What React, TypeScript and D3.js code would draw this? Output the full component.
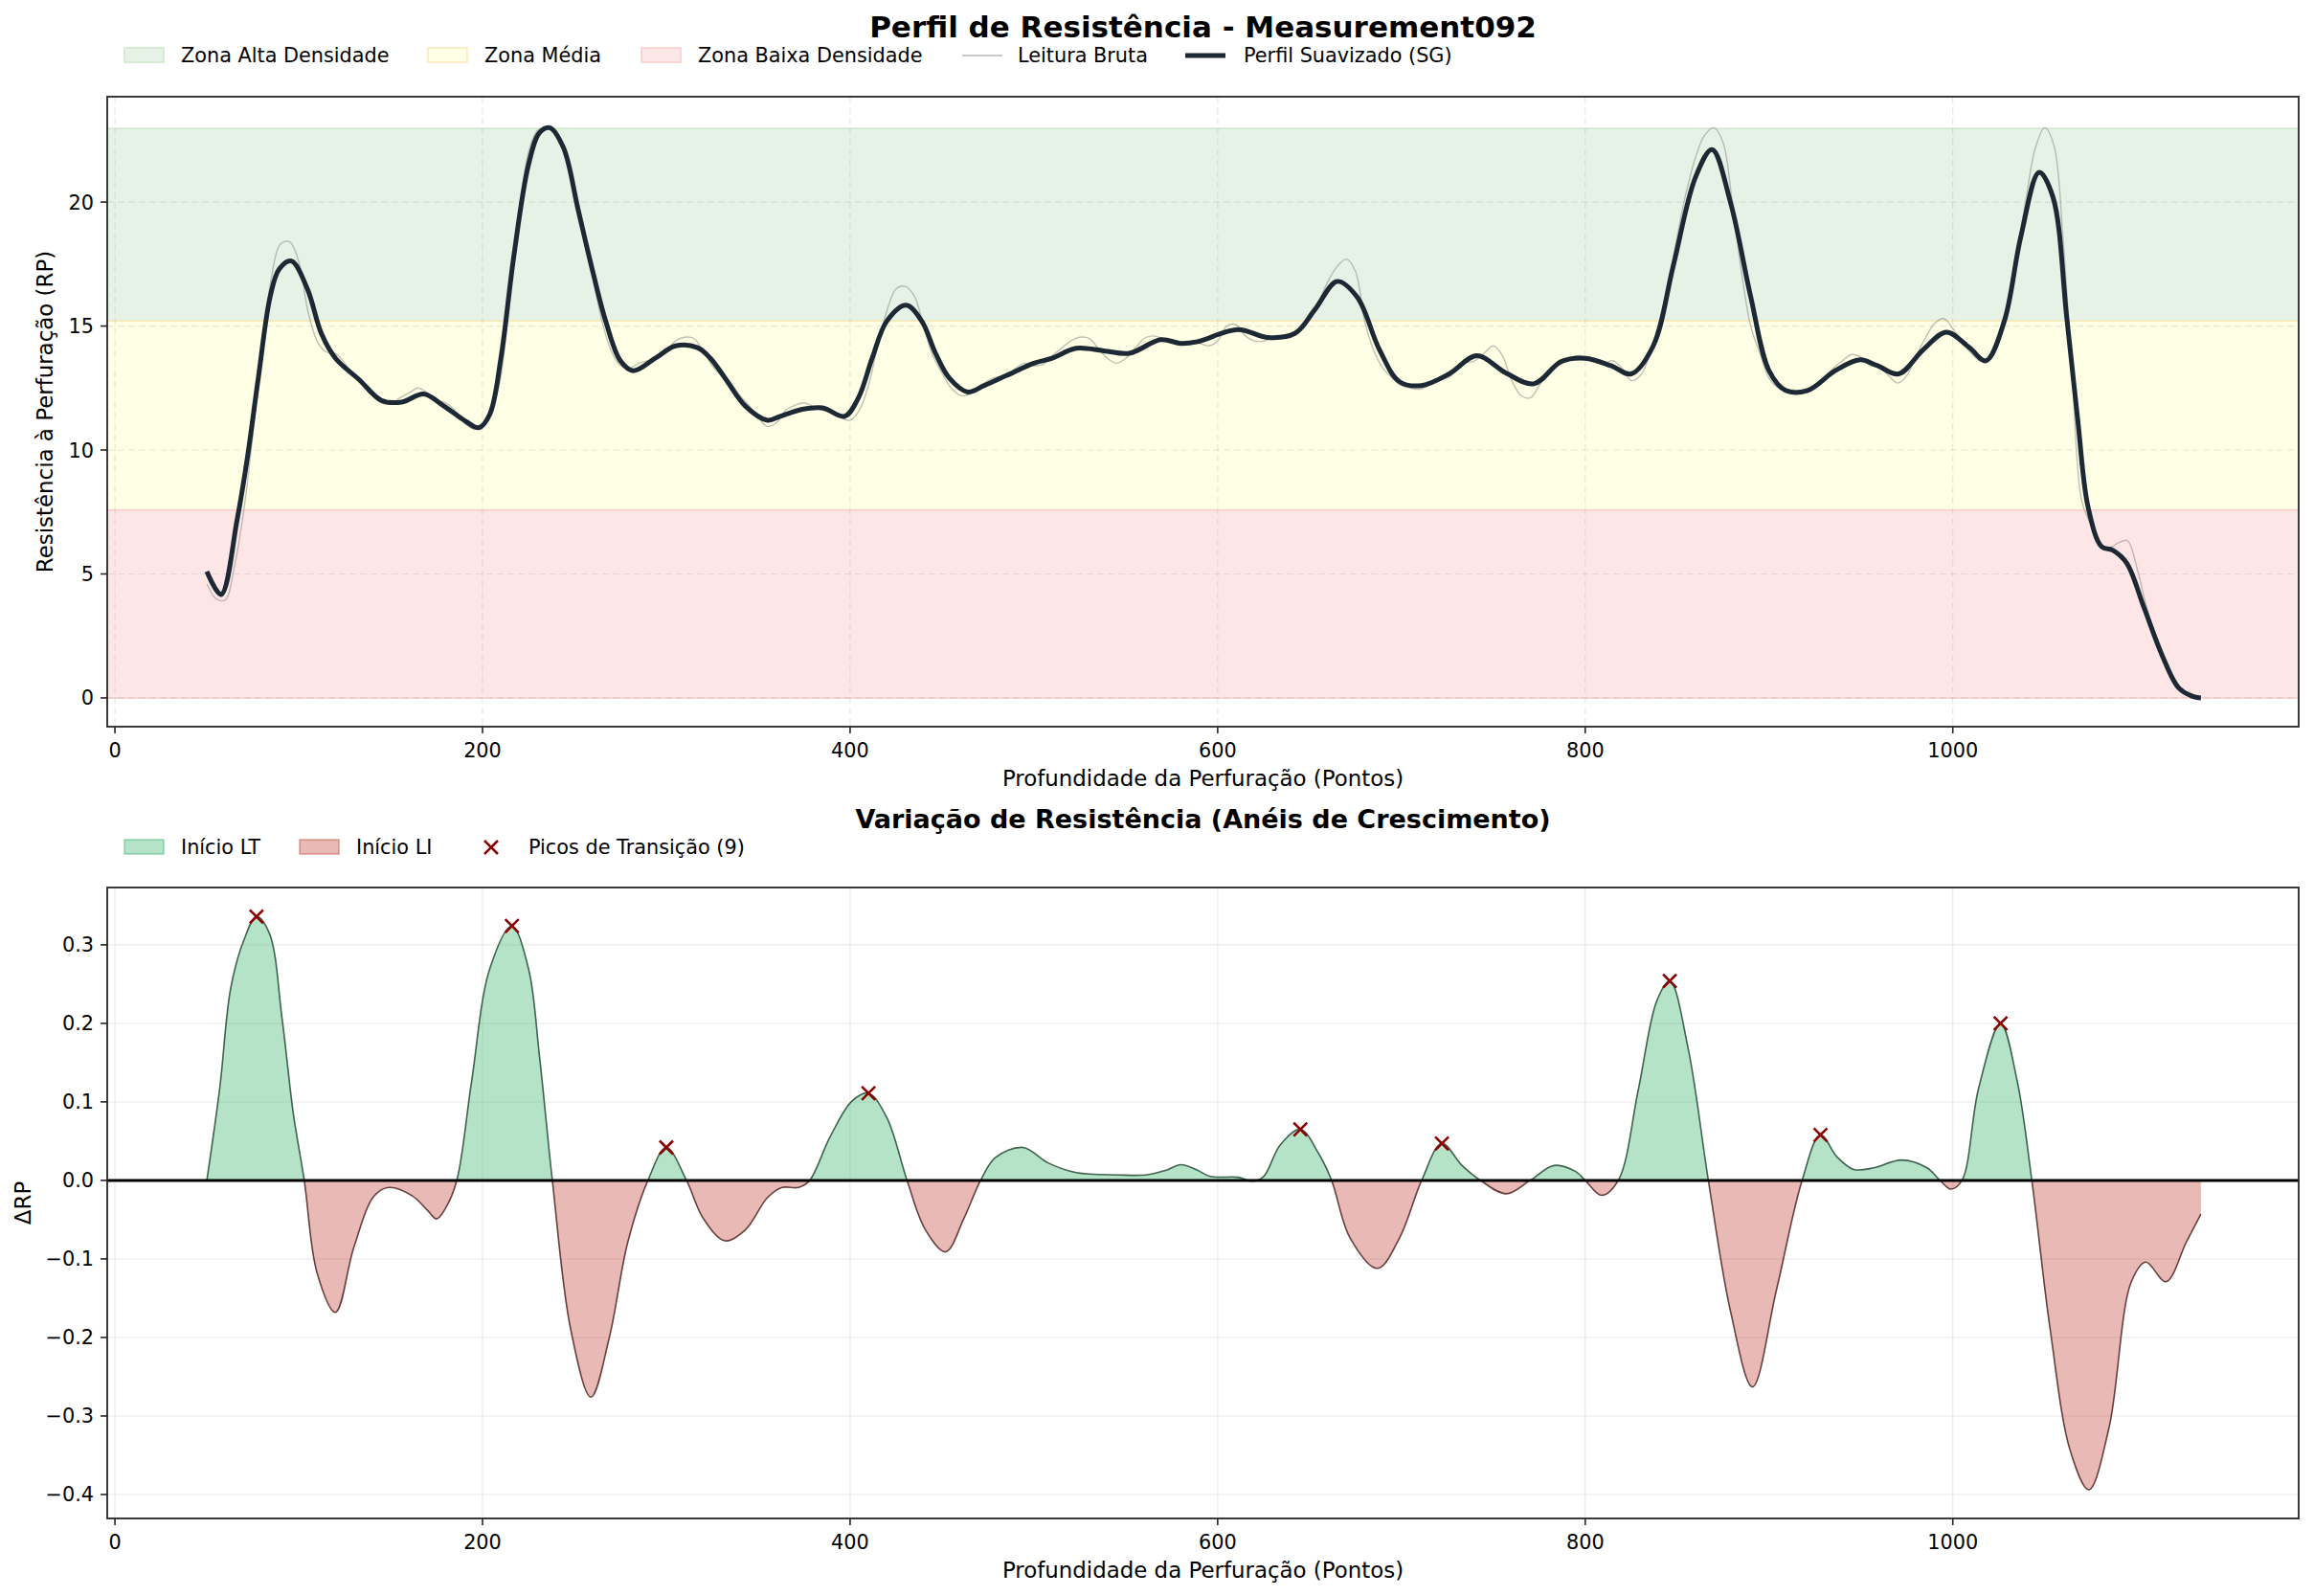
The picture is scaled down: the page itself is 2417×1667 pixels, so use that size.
import React from "react";
import * as d3 from "d3";

// ---- data ----

// smoothed profile (SG), key points along the depth axis
const smoothDepth = [
  50, 57.7, 66.5, 72, 78, 84.5, 89.4, 96, 104.7, 112.3, 120, 133, 145, 156, 168, 179, 191, 198, 204, 210,
  217, 225, 231, 236.5, 244, 252, 259, 267, 275, 282, 294, 305, 317, 324, 332, 343, 355, 362, 374, 385,
  397, 404.5, 412, 420, 430.5, 439, 446.5, 454, 464, 473, 485, 500, 510, 523, 538, 552, 569, 580, 589, 611,
  627, 642, 653, 665, 676, 688, 699, 711, 726, 741, 757, 772, 787, 800, 814, 825, 837, 848, 860, 869,
  879, 890, 900, 909, 921, 936, 949.5, 959, 970.5, 984, 996.5, 1009, 1018, 1028, 1037, 1047, 1054.5, 1062, 1068, 1073.6,
  1081, 1087, 1094.6, 1104, 1114, 1123, 1131, 1135,
];
const smoothRP = [
  5.1, 4.17, 7.2, 9.66, 12.9, 16.2, 17.3, 17.62, 16.5, 14.7, 13.7, 12.83, 12.0, 11.93, 12.26, 11.77, 11.15, 10.9, 11.45, 13.7,
  17.8, 21.5, 22.8, 23.0, 22.2, 19.7, 17.5, 15.2, 13.6, 13.2, 13.7, 14.2, 14.13, 13.7, 12.9, 11.77, 11.2, 11.36, 11.64, 11.7,
  11.36, 12.1, 13.7, 15.2, 15.84, 15.2, 13.9, 12.9, 12.34, 12.6, 13.0, 13.5, 13.7, 14.1, 14.0, 13.9, 14.45, 14.3, 14.37, 14.86,
  14.54, 14.7, 15.67, 16.8, 16.16, 14.05, 12.75, 12.6, 13.07, 13.8, 13.1, 12.67, 13.57, 13.7, 13.4, 13.07, 14.2, 17.46, 21.0, 22.12,
  20.0, 16.2, 13.2, 12.4, 12.4, 13.2, 13.64, 13.4, 13.07, 14.05, 14.75, 14.13, 13.6, 15.19, 18.6, 21.2, 20.2, 15.35, 11.2, 7.7,
  6.1, 5.96, 5.44, 3.65, 1.7, 0.4, 0.05, 0.0,
];

// raw reading, one value every 5 points from depth 50
const rawStart = 50;
const rawStep = 5;
const rawRP = [
  4.6, 4.0, 3.95, 5.3, 7.5, 10.6, 14.0, 16.9, 18.3, 18.4,
  17.6, 15.6, 14.4, 13.95, 13.9, 13.5, 13.0, 12.6, 12.2, 11.9,
  11.85, 12.1, 12.3, 12.5, 12.3, 12.0, 11.9, 11.6, 11.1, 10.85,
  11.0, 11.6, 13.0, 16.3, 19.5, 22.0, 22.9, 23.0, 22.9, 21.8,
  20.6, 19.0, 17.0, 15.2, 14.0, 13.4, 13.3, 13.5, 13.6, 13.7,
  14.0, 14.4, 14.55, 14.5, 14.0, 13.4, 13.0, 12.7, 12.2, 11.8,
  11.3, 10.95, 11.1, 11.6, 11.8, 11.9, 11.75, 11.6, 11.5, 11.3,
  11.2, 11.6, 12.6, 14.2, 15.6, 16.5, 16.6, 16.2, 15.0, 13.8,
  13.1, 12.5, 12.2, 12.25, 12.5, 12.8, 12.95, 13.0, 13.3, 13.5,
  13.4, 13.45, 13.8, 14.1, 14.4, 14.55, 14.5, 14.1, 13.7, 13.5,
  13.7, 14.1, 14.5, 14.6, 14.5, 14.35, 14.25, 14.3, 14.3, 14.2,
  14.4, 15.0, 15.05, 14.6, 14.4, 14.4, 14.55, 14.6, 14.6, 14.9,
  15.4, 16.0, 16.8, 17.4, 17.7, 17.2, 15.2, 14.0, 13.3, 12.9,
  12.6, 12.5, 12.45, 12.6, 12.8, 12.9, 13.2, 13.5, 13.6, 13.9,
  14.2, 13.8, 12.8, 12.2, 12.1, 12.6, 13.2, 13.4, 13.6, 13.8,
  13.75, 13.6, 13.5, 13.6, 13.3, 12.8, 13.0, 13.8, 14.8, 16.6,
  18.6, 20.4, 21.8, 22.7, 23.0, 22.4, 20.0, 17.2, 15.0, 13.9,
  12.9, 12.5, 12.45, 12.4, 12.4, 12.5, 12.9, 13.3, 13.6, 13.85,
  13.75, 13.4, 13.35, 13.0, 12.7, 13.0, 13.8, 14.5, 15.1, 15.3,
  14.9, 14.4, 13.9, 13.6, 13.7, 14.7, 16.0, 18.0, 20.2, 22.2,
  23.0, 22.3, 18.5, 13.0, 8.0, 7.0, 6.2, 6.05, 6.25, 6.35,
  5.3, 3.8, 2.5, 1.4, 0.7, 0.25, 0.05, 0.0,
];

// density zones
const zoneNames = ["Zona Alta Densidade", "Zona Média", "Zona Baixa Densidade"];
const zoneLow = [15.2, 7.58, 0];
const zoneHigh = [22.97, 15.2, 7.58];

// ΔRP (growth rings)
const deltaDepth = [
  50, 57, 63, 70, 77, 84, 91, 97, 103, 110, 120, 130, 141, 149, 162, 170, 175, 180, 186, 194,
  204, 216, 225, 231, 238, 248, 259, 269, 279, 290, 300, 311, 320, 332, 343, 355, 363, 372, 378, 389,
  401, 410, 420, 431, 441, 452, 462, 471, 479, 494, 508, 523, 546, 561, 572, 580, 589, 596, 611, 619,
  625, 634, 645, 655, 662, 672, 687, 699, 711, 722, 733, 743, 757, 770, 783, 795, 800, 809, 818, 829,
  839, 846, 856, 867, 879, 891, 904, 918, 928, 937, 946, 957, 972, 986, 993, 999, 1005, 1014, 1026, 1035,
  1043, 1053, 1064, 1074, 1085, 1097, 1105, 1116, 1127, 1135,
];
const deltaRP = [
  0, 0.117, 0.245, 0.305, 0.336, 0.315, 0.205, 0.086, 0, -0.118, -0.168, -0.085, -0.02, -0.009, -0.02, -0.038, -0.049, -0.035, 0, 0.125,
  0.27, 0.324, 0.27, 0.158, 0, -0.19, -0.276, -0.2, -0.079, 0, 0.042, 0, -0.048, -0.077, -0.063, -0.022, -0.009, -0.009, 0, 0.055,
  0.101, 0.111, 0.08, 0, -0.063, -0.091, -0.048, 0, 0.029, 0.042, 0.022, 0.01, 0.007, 0.007, 0.013, 0.02, 0.013, 0.005, 0.004, -0.001,
  0.005, 0.045, 0.065, 0.034, 0, -0.073, -0.112, -0.073, 0, 0.047, 0.019, 0, -0.017, 0, 0.019, 0.011, 0, -0.019, 0, 0.117,
  0.229, 0.254, 0.168, 0, -0.166, -0.263, -0.14, 0, 0.058, 0.03, 0.014, 0.016, 0.026, 0.016, 0, -0.011, 0, 0.117, 0.2, 0.127,
  0, -0.19, -0.345, -0.394, -0.315, -0.13, -0.104, -0.129, -0.079, -0.043,
];

// transition peaks
const peakDepth = [77, 216, 300, 410, 645, 722, 846, 928, 1026];
const peakRP = [0.336, 0.324, 0.042, 0.111, 0.065, 0.047, 0.254, 0.058, 0.2];

const xTicks = [0, 200, 400, 600, 800, 1000];
const yTicksTop = [0, 5, 10, 15, 20];
const yTicksBottom = [-0.4, -0.3, -0.2, -0.1, 0, 0.1, 0.2, 0.3];

// ---- layout ----
const W = 2417;
const H = 1667;
const L = 112;
const R = 2401;
const top = { y0: 101, y1: 759 };
const bot = { y0: 927, y1: 1586 };
const FONT = "DejaVu Sans, sans-serif";

const zoneFill = ["#e6f2e6", "#ffffe6", "#ffe6e6"];
const zoneEdge = ["#cde6c9", "#fbe9b8", "#f8cccc"];

const minus = (s: string) => s.replace("-", "\u2212");

export default function App() {
  const x = d3.scaleLinear().domain([-4.2, 1188.2]).range([L, R]);
  const yTop = d3.scaleLinear().domain([-1.16, 24.25]).range([top.y1, top.y0]);
  const yBot = d3.scaleLinear().domain([-0.4305, 0.373]).range([bot.y1, bot.y0]);

  const smoothPts: [number, number][] = smoothDepth.map((d, i) => [d, smoothRP[i]]);
  const rawPts: [number, number][] = rawRP.map((v, i) => [rawStart + i * rawStep, v]);
  const deltaPts: [number, number][] = deltaDepth.map((d, i) => [d, deltaRP[i]]);

  const curve = d3.curveCatmullRom.alpha(0.5);

  const lineTop = d3
    .line<[number, number]>()
    .x((d) => x(d[0]))
    .y((d) => yTop(d[1]))
    .curve(curve);
  const lineBot = d3
    .line<[number, number]>()
    .x((d) => x(d[0]))
    .y((d) => yBot(d[1]))
    .curve(curve);
  const areaBot = d3
    .area<[number, number]>()
    .x((d) => x(d[0]))
    .y0(yBot(0))
    .y1((d) => yBot(d[1]))
    .curve(curve);

  const fmt1 = d3.format(".1f");
  const zeroY = yBot(0);

  return (
    <svg
      width={W}
      height={H}
      viewBox={`0 0 ${W} ${H}`}
      style={{ position: "absolute", left: 0, top: 0, background: "#fff" }}
      fontFamily={FONT}
    >
      <defs>
        <clipPath id="clipTop">
          <rect x={L} y={top.y0} width={R - L} height={top.y1 - top.y0} />
        </clipPath>
        <clipPath id="clipPos">
          <rect x={L} y={bot.y0} width={R - L} height={zeroY - bot.y0} />
        </clipPath>
        <clipPath id="clipNeg">
          <rect x={L} y={zeroY} width={R - L} height={bot.y1 - zeroY} />
        </clipPath>
      </defs>
      <rect x={0} y={0} width={W} height={H} fill="#fff" />

      {/* ---------- top panel ---------- */}
      <text x={(L + R) / 2} y={39} textAnchor="middle" fontSize={31} fontWeight="bold">
        Perfil de Resistência - Measurement092
      </text>

      {/* legend */}
      <g fontSize={20.8}>
        {[130, 447, 670].map((lx, i) => (
          <g key={i}>
            <rect x={lx} y={50} width={41} height={15} fill={zoneFill[i]} stroke={zoneEdge[i]} strokeWidth={1.5} />
            <text x={lx + 59} y={65}>{zoneNames[i]}</text>
          </g>
        ))}
        <line x1={1005} x2={1047} y1={58} y2={58} stroke="#999" strokeOpacity={0.7} strokeWidth={1.5} />
        <text x={1063} y={65}>Leitura Bruta</text>
        <line x1={1238} x2={1280} y1={58} y2={58} stroke="#1c2833" strokeWidth={5} />
        <text x={1299} y={65}>Perfil Suavizado (SG)</text>
      </g>

      {/* zones */}
      {zoneLow.map((lo, i) => (
        <g key={i}>
          <rect x={L} y={yTop(zoneHigh[i])} width={R - L} height={yTop(lo) - yTop(zoneHigh[i])} fill={zoneFill[i]} />
          <line x1={L} x2={R} y1={yTop(zoneHigh[i])} y2={yTop(zoneHigh[i])} stroke={zoneEdge[i]} strokeWidth={1.5} />
          <line x1={L} x2={R} y1={yTop(lo)} y2={yTop(lo)} stroke={zoneEdge[i]} strokeWidth={1.5} />
        </g>
      ))}

      {/* grid */}
      <g stroke="#b0b0b0" strokeOpacity={0.3} strokeWidth={1.2} strokeDasharray="7,4">
        {xTicks.map((t) => (
          <line key={t} x1={x(t)} x2={x(t)} y1={top.y0} y2={top.y1} />
        ))}
        {yTicksTop.map((t) => (
          <line key={t} x1={L} x2={R} y1={yTop(t)} y2={yTop(t)} />
        ))}
      </g>

      <g clipPath="url(#clipTop)">
        <path d={lineTop(rawPts) ?? ""} fill="none" stroke="#8c8c8c" strokeOpacity={0.55} strokeWidth={1.4} />
        <path d={lineTop(smoothPts) ?? ""} fill="none" stroke="#1c2833" strokeWidth={5} strokeLinejoin="round" />
      </g>

      <rect x={L} y={top.y0} width={R - L} height={top.y1 - top.y0} fill="none" stroke="#262626" strokeWidth={1.8} />

      {/* axes top */}
      <g fontSize={20.8} fill="#000">
        {xTicks.map((t) => (
          <g key={t}>
            <line x1={x(t)} x2={x(t)} y1={top.y1} y2={top.y1 + 7} stroke="#262626" strokeWidth={1.6} />
            <text x={x(t)} y={top.y1 + 32} textAnchor="middle">{t}</text>
          </g>
        ))}
        {yTicksTop.map((t) => (
          <g key={t}>
            <line x1={L - 7} x2={L} y1={yTop(t)} y2={yTop(t)} stroke="#262626" strokeWidth={1.6} />
            <text x={L - 14} y={yTop(t) + 7.5} textAnchor="end">{t}</text>
          </g>
        ))}
      </g>
      <text x={(L + R) / 2} y={821} textAnchor="middle" fontSize={22.9}>
        Profundidade da Perfuração (Pontos)
      </text>
      <text
        transform={`translate(55,${(top.y0 + top.y1) / 2}) rotate(-90)`}
        textAnchor="middle"
        fontSize={22.9}
      >
        Resistência à Perfuração (RP)
      </text>

      {/* ---------- bottom panel ---------- */}
      <text x={(L + R) / 2} y={865} textAnchor="middle" fontSize={27} fontWeight="bold">
        Variação de Resistência (Anéis de Crescimento)
      </text>

      <g fontSize={20.8}>
        <rect x={130} y={877} width={41} height={15} fill="#27ae60" fillOpacity={0.35} stroke="#27ae60" strokeOpacity={0.45} strokeWidth={1.5} />
        <text x={189} y={892}>Início LT</text>
        <rect x={313} y={877} width={41} height={15} fill="#c0392b" fillOpacity={0.35} stroke="#c0392b" strokeOpacity={0.45} strokeWidth={1.5} />
        <text x={372} y={892}>Início LI</text>
        <path d="M506,878 L520,892 M520,878 L506,892" stroke="#8b0000" strokeWidth={2.6} />
        <text x={552} y={892}>Picos de Transição (9)</text>
      </g>

      {/* grid */}
      <g stroke="#b0b0b0" strokeOpacity={0.2} strokeWidth={1.5}>
        {xTicks.map((t) => (
          <line key={t} x1={x(t)} x2={x(t)} y1={bot.y0} y2={bot.y1} />
        ))}
        {yTicksBottom.map((t) => (
          <line key={t} x1={L} x2={R} y1={yBot(t)} y2={yBot(t)} />
        ))}
      </g>

      <g clipPath="url(#clipPos)">
        <path d={areaBot(deltaPts) ?? ""} fill="#27ae60" fillOpacity={0.35} />
        <path d={lineBot(deltaPts) ?? ""} fill="none" stroke="#244a35" strokeOpacity={0.85} strokeWidth={1.6} />
      </g>
      <g clipPath="url(#clipNeg)">
        <path d={areaBot(deltaPts) ?? ""} fill="#c0392b" fillOpacity={0.35} />
        <path d={lineBot(deltaPts) ?? ""} fill="none" stroke="#4d2525" strokeOpacity={0.85} strokeWidth={1.6} />
      </g>

      <line x1={L} x2={R} y1={zeroY} y2={zeroY} stroke="#000" strokeWidth={3} />

      {peakDepth.map((d, i) => {
        const cx = x(d);
        const cy = yBot(peakRP[i]);
        const s = 7;
        return (
          <path
            key={i}
            d={`M${cx - s},${cy - s} L${cx + s},${cy + s} M${cx + s},${cy - s} L${cx - s},${cy + s}`}
            stroke="#8b0000"
            strokeWidth={2.6}
          />
        );
      })}

      <rect x={L} y={bot.y0} width={R - L} height={bot.y1 - bot.y0} fill="none" stroke="#262626" strokeWidth={1.8} />

      <g fontSize={20.8} fill="#000">
        {xTicks.map((t) => (
          <g key={t}>
            <line x1={x(t)} x2={x(t)} y1={bot.y1} y2={bot.y1 + 7} stroke="#262626" strokeWidth={1.6} />
            <text x={x(t)} y={bot.y1 + 32} textAnchor="middle">{t}</text>
          </g>
        ))}
        {yTicksBottom.map((t) => (
          <g key={t}>
            <line x1={L - 7} x2={L} y1={yBot(t)} y2={yBot(t)} stroke="#262626" strokeWidth={1.6} />
            <text x={L - 14} y={yBot(t) + 7.5} textAnchor="end">{minus(fmt1(t))}</text>
          </g>
        ))}
      </g>
      <text x={(L + R) / 2} y={1648} textAnchor="middle" fontSize={22.9}>
        Profundidade da Perfuração (Pontos)
      </text>
      <text
        transform={`translate(32,${(bot.y0 + bot.y1) / 2}) rotate(-90)`}
        textAnchor="middle"
        fontSize={22.9}
      >
        ΔRP
      </text>
    </svg>
  );
}
